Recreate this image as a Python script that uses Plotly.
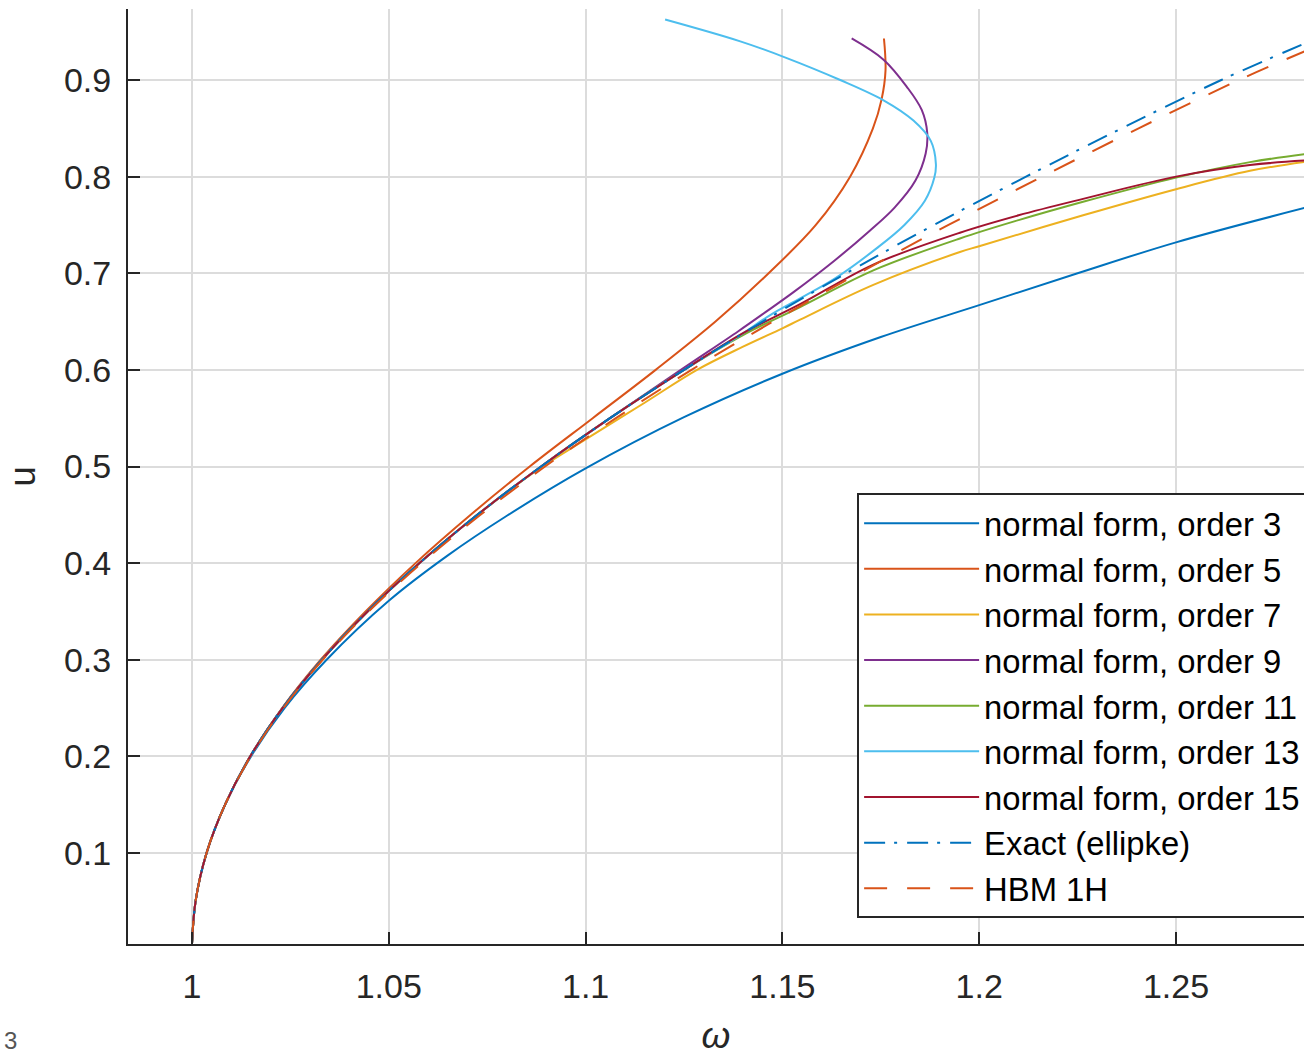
import plotly.graph_objects as go

# ---------------- data ----------------
# normal form, order 3
w3 = [1.0000, 1.0009, 1.0037, 1.0084, 1.0150, 1.0235, 1.0342, 1.0500, 1.0650, 1.0800,
      1.1000, 1.1250, 1.1500, 1.1750, 1.2000, 1.2250, 1.2500, 1.2840]
u3 = [0.006, 0.05, 0.10, 0.15, 0.20, 0.25, 0.30, 0.361, 0.408, 0.449,
      0.498, 0.551, 0.596, 0.634, 0.667, 0.700, 0.732, 0.769]

# normal form, order 5
w5 = [1.0000, 1.0009, 1.0037, 1.0084, 1.0148, 1.0229, 1.0327, 1.0441, 1.0568, 1.0708,
      1.0858, 1.1018, 1.1178, 1.1330, 1.1465, 1.1585, 1.1672, 1.1730, 1.1752, 1.1762,
      1.1758]
u5 = [0.006, 0.05, 0.10, 0.15, 0.20, 0.25, 0.30, 0.35, 0.40, 0.45,
      0.50, 0.55, 0.60, 0.65, 0.70, 0.75, 0.80, 0.85, 0.88, 0.91,
      0.943]

# normal form, order 7
w7 = [1.0000, 1.0009, 1.0037, 1.0084, 1.0148, 1.0230, 1.0330, 1.0446, 1.0578, 1.0725,
      1.0887, 1.1000, 1.1150, 1.1283, 1.1400, 1.1500, 1.1545, 1.1731, 1.1951, 1.2000,
      1.2264, 1.2500, 1.2688, 1.2840]
u7 = [0.006, 0.05, 0.10, 0.15, 0.20, 0.25, 0.30, 0.35, 0.40, 0.45,
      0.499, 0.528, 0.566, 0.600, 0.624, 0.643, 0.652, 0.688, 0.722, 0.728,
      0.760, 0.787, 0.806, 0.816]

# normal form, order 9
w9 = [1.0000, 1.0009, 1.0037, 1.0084, 1.0148, 1.0230, 1.0330, 1.0446, 1.0578, 1.0725,
      1.0887, 1.1062, 1.1242, 1.1388, 1.1458, 1.1530, 1.1632, 1.1722, 1.1785, 1.1838,
      1.1864, 1.1868, 1.1854, 1.1816, 1.1757, 1.1676]
u9 = [0.006, 0.05, 0.10, 0.15, 0.20, 0.25, 0.30, 0.35, 0.40, 0.45,
      0.50, 0.55, 0.600, 0.640, 0.660, 0.681, 0.713, 0.744, 0.768, 0.796,
      0.824, 0.845, 0.869, 0.893, 0.921, 0.943]

# normal form, order 11
w11 = [1.0000, 1.0009, 1.0037, 1.0084, 1.0148, 1.0230, 1.0330, 1.0446, 1.0578, 1.0725,
       1.0887, 1.1062, 1.1250, 1.1400, 1.1545, 1.1731, 1.1951, 1.2100, 1.2264, 1.2500,
       1.2688, 1.2840]
u11 = [0.006, 0.05, 0.10, 0.15, 0.20, 0.25, 0.30, 0.35, 0.40, 0.45,
       0.50, 0.55, 0.60, 0.636, 0.665, 0.703, 0.736, 0.755, 0.774, 0.799,
       0.815, 0.824]

# normal form, order 13
w13 = [1.0000, 1.0009, 1.0037, 1.0084, 1.0148, 1.0230, 1.0330, 1.0446, 1.0578, 1.0725,
       1.0887, 1.1062, 1.1250, 1.1393, 1.1470, 1.1545, 1.1635, 1.1740, 1.1810, 1.1862,
       1.1886, 1.1890, 1.1877, 1.1833, 1.1757, 1.1647, 1.1503, 1.1393, 1.1202]
u13 = [0.006, 0.05, 0.10, 0.15, 0.20, 0.25, 0.30, 0.35, 0.40, 0.45,
       0.50, 0.55, 0.60, 0.636, 0.657, 0.674, 0.695, 0.726, 0.750, 0.775,
       0.799, 0.813, 0.837, 0.858, 0.879, 0.900, 0.924, 0.940, 0.9626]

# normal form, order 15
w15 = [1.0000, 1.0009, 1.0037, 1.0084, 1.0148, 1.0230, 1.0330, 1.0446, 1.0578, 1.0725,
       1.0887, 1.1062, 1.1250, 1.1400, 1.1545, 1.1731, 1.1951, 1.2100, 1.2264, 1.2500,
       1.2688, 1.2840]
u15 = [0.006, 0.05, 0.10, 0.15, 0.20, 0.25, 0.30, 0.35, 0.40, 0.45,
       0.50, 0.55, 0.60, 0.638, 0.668, 0.709, 0.742, 0.760, 0.777, 0.800,
       0.812, 0.817]

# Exact (ellipke)
w_exact = [1.0000, 1.0009, 1.0037, 1.0084, 1.0148, 1.0230, 1.0330, 1.0446, 1.0578, 1.0725,
           1.0887, 1.1062, 1.1250, 1.1450, 1.1662, 1.1885, 1.2119, 1.2362, 1.2615, 1.2840]
u_exact = [0.006, 0.05, 0.10, 0.15, 0.20, 0.25, 0.30, 0.35, 0.40, 0.45,
           0.50, 0.55, 0.60, 0.65, 0.70, 0.75, 0.80, 0.85, 0.90, 0.940]

# HBM 1H
w_hbm = [1.0000, 1.0009, 1.0037, 1.0084, 1.0149, 1.0232, 1.0332, 1.0449, 1.0583, 1.0733,
         1.0897, 1.1077, 1.1269, 1.1476, 1.1694, 1.1922, 1.2160, 1.2405, 1.2660, 1.2840]
u_hbm = [0.006, 0.05, 0.10, 0.15, 0.20, 0.25, 0.30, 0.35, 0.40, 0.45,
         0.50, 0.55, 0.60, 0.65, 0.70, 0.75, 0.80, 0.85, 0.90, 0.932]

x_ticks = [1.0, 1.05, 1.1, 1.15, 1.2, 1.25]
x_tick_text = ["1", "1.05", "1.1", "1.15", "1.2", "1.25"]
y_ticks = [0.1, 0.2, 0.3, 0.4, 0.5, 0.6, 0.7, 0.8, 0.9]
y_tick_text = ["0.1", "0.2", "0.3", "0.4", "0.5", "0.6", "0.7", "0.8", "0.9"]

series = [
    ("normal form, order 3", w3, u3, "#0072BD", "solid"),
    ("normal form, order 5", w5, u5, "#D95319", "solid"),
    ("normal form, order 7", w7, u7, "#EDB120", "solid"),
    ("normal form, order 9", w9, u9, "#7E2F8E", "solid"),
    ("normal form, order 11", w11, u11, "#77AC30", "solid"),
    ("normal form, order 13", w13, u13, "#4DBEEE", "solid"),
    ("normal form, order 15", w15, u15, "#A2142F", "solid"),
    ("Exact (ellipke)", w_exact, u_exact, "#0072BD", "21px,9px,3px,10px"),
    ("HBM 1H", w_hbm, u_hbm, "#D95319", "23px,20px"),
]

FONT = "Liberation Sans, Arial, Helvetica, sans-serif"
AX = "#262626"

fig = go.Figure()
for name, w, u, col, dash in series:
    fig.add_trace(go.Scatter(
        x=w, y=u, mode="lines", name=name,
        line=dict(color=col, width=2, dash=dash, shape="spline", smoothing=1.0),
    ))

axis_common = dict(
    showgrid=True, gridcolor="#dcdcdc", gridwidth=2,
    zeroline=False, showline=True, linecolor=AX, linewidth=2,
    ticks="inside", ticklen=12, tickwidth=2, tickcolor=AX,
    tickfont=dict(family=FONT, size=34, color=AX),
    mirror=False,
)

fig.update_layout(
    width=1304, height=1056,
    margin=dict(l=128, r=0, t=9, b=112, autoexpand=False),
    paper_bgcolor="white", plot_bgcolor="white",
    showlegend=True,
    legend=dict(
        x=0.620, y=0.482, xanchor="left", yanchor="top",
        bgcolor="white", bordercolor=AX, borderwidth=2,
        font=dict(family=FONT, size=32.8, color="black"),
        itemwidth=115, tracegroupgap=0,
    ),
    xaxis=dict(
        range=[0.98374, 1.28252], tickvals=x_ticks, ticktext=x_tick_text,
        title=dict(text="<i>ω</i>", font=dict(family=FONT, size=37, color=AX), standoff=44),
        ticklabelstandoff=11,
        **axis_common,
    ),
    yaxis=dict(
        range=[0.0058, 0.9735], tickvals=y_ticks, ticktext=y_tick_text,
        title=dict(text="u", font=dict(family=FONT, size=37, color=AX), standoff=17),
        ticklabelstandoff=8,
        **axis_common,
    ),
    annotations=[dict(
        text="3", xref="paper", yref="paper", x=-0.1075, y=-0.1027,
        xanchor="left", yanchor="middle", showarrow=False,
        font=dict(family=FONT, size=24, color="#555555"),
    )],
)

fig.write_html("out.html", config={"displayModeBar": False},
               post_script="document.body.style.margin='0px';")
